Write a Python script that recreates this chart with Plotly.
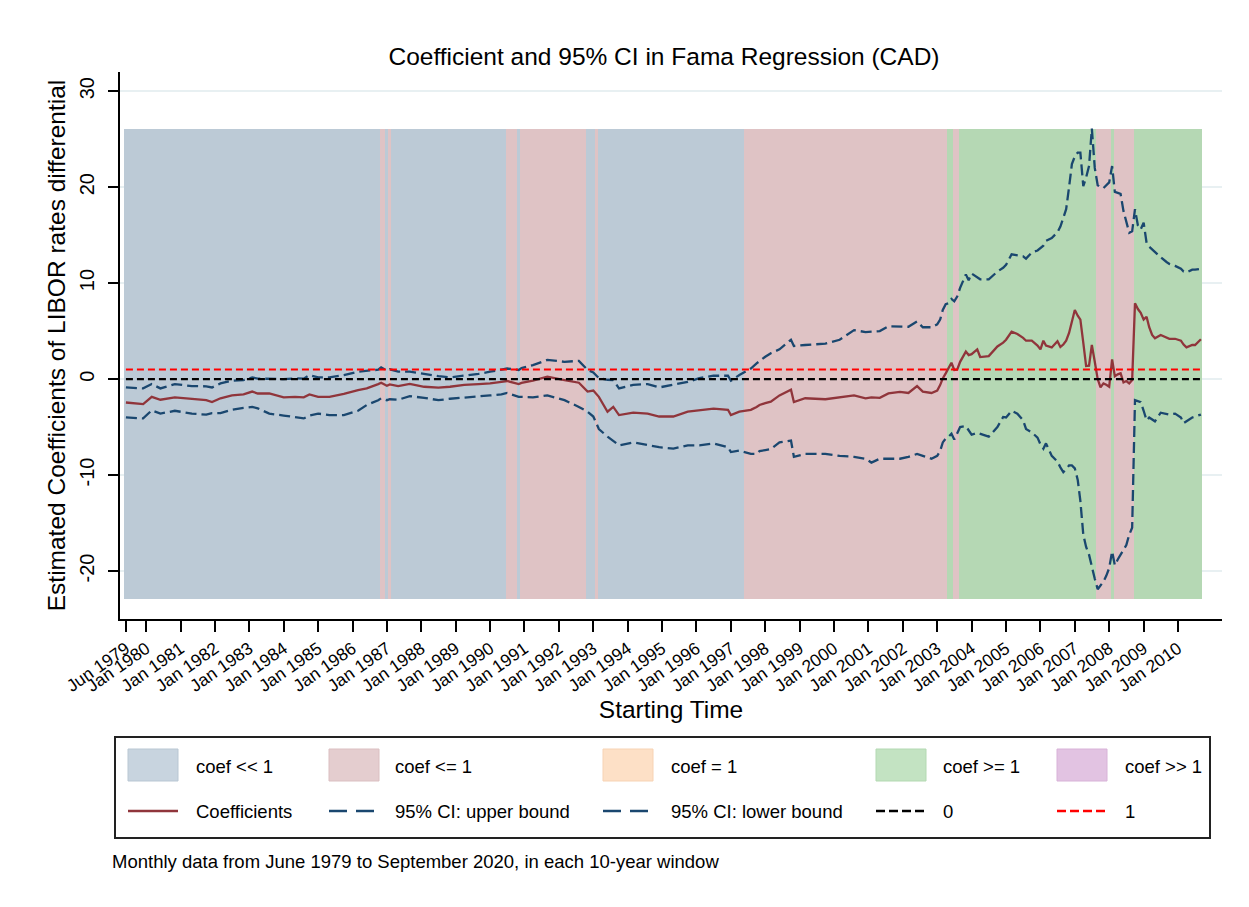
import pandas as pd
import plotly.graph_objects as go

FONT = "Liberation Sans, Arial, Helvetica, sans-serif"

# ---------------- data ----------------
title_text = "Coefficient and 95% CI in Fama Regression (CAD)"
note_text = "Monthly data from June 1979 to September 2020, in each 10-year window"

dates = [
    "1979-06", "1979-12", "1980-03", "1980-06", "1980-11", "1981-05", "1981-10", "1981-12",
    "1982-03", "1982-07", "1982-11", "1983-02", "1983-04", "1983-08", "1984-01", "1984-05",
    "1984-08", "1984-10", "1985-01", "1985-05", "1985-10", "1986-03", "1986-06", "1986-10",
    "1986-11", "1987-01", "1987-02", "1987-05", "1987-09", "1988-02", "1988-07", "1988-11",
    "1989-04", "1989-09", "1990-01", "1990-05", "1990-07", "1990-11", "1990-12", "1991-04",
    "1991-09", "1992-03", "1992-08", "1992-11", "1993-01", "1993-03", "1993-06", "1993-08",
    "1993-10", "1994-03", "1994-08", "1994-12", "1995-05", "1995-10", "1996-02", "1996-07",
    "1996-12", "1997-01", "1997-04", "1997-08", "1997-10", "1997-11", "1998-01", "1998-03",
    "1998-06", "1998-10", "1998-11", "1999-03", "1999-10", "2000-03", "2000-08", "2000-12",
    "2001-02", "2001-05", "2001-08", "2001-12", "2002-03", "2002-06", "2002-08", "2002-11",
    "2003-01", "2003-02", "2003-03", "2003-04", "2003-05", "2003-06", "2003-07", "2003-08",
    "2003-09", "2003-11", "2003-12", "2004-01", "2004-03", "2004-04", "2004-07", "2004-10",
    "2004-12", "2005-01", "2005-03", "2005-05", "2005-07", "2005-08", "2005-10", "2005-12",
    "2006-01", "2006-02", "2006-03", "2006-05", "2006-07", "2006-08", "2006-09", "2006-10",
    "2006-11", "2006-12", "2007-01", "2007-02", "2007-03", "2007-04", "2007-05", "2007-06",
    "2007-07", "2007-08", "2007-09", "2007-10", "2007-11", "2007-12", "2008-01", "2008-02",
    "2008-03", "2008-04", "2008-05", "2008-06", "2008-07", "2008-08", "2008-09", "2008-10",
    "2008-11", "2008-12", "2009-01", "2009-02", "2009-03", "2009-04", "2009-05", "2009-07",
    "2009-09", "2009-10", "2009-12", "2010-02", "2010-03", "2010-04", "2010-06", "2010-07",
    "2010-09",
]

coef = [
    -2.44, -2.6, -1.85, -2.15, -1.9, -2.1, -2.2, -2.4,
    -2.0, -1.7, -1.6, -1.3, -1.5, -1.5, -1.9, -1.85,
    -1.9, -1.6, -1.85, -1.85, -1.55, -1.15, -0.97, -0.52,
    -0.38, -0.7, -0.55, -0.73, -0.5, -0.8, -0.9, -0.8,
    -0.6, -0.52, -0.45, -0.3, -0.2, -0.52, -0.4, -0.17,
    0.25, -0.1, -0.38, -1.3, -1.2, -1.85, -3.4, -2.9,
    -3.75, -3.5, -3.6, -3.9, -3.9, -3.4, -3.25, -3.07,
    -3.2, -3.75, -3.4, -3.2, -2.9, -2.7, -2.5, -2.35,
    -1.7, -1.1, -2.4, -2.0, -2.1, -1.9, -1.7, -2.0,
    -1.9, -1.95, -1.5, -1.33, -1.45, -0.73, -1.3, -1.45,
    -1.2, -0.63, 0.07, 0.6, 1.2, 1.7, 0.95, 0.98,
    1.8, 2.86, 2.5, 2.6, 3.1, 2.3, 2.4, 3.4,
    3.8, 4.1, 4.95, 4.7, 4.3, 4.0, 4.0, 3.5,
    3.1, 4.0, 3.5, 3.3, 3.95, 3.35, 3.6, 4.0,
    4.8, 6.0, 7.2, 6.6, 6.2, 3.8, 1.36, 1.4,
    3.56, 1.8, 0.0, -0.87, -0.45, -0.6, -0.8, 2.06,
    0.3, 0.5, 0.6, -0.35, -0.2, -0.45, -0.1, 7.9,
    7.3, 6.9, 6.2, 6.5, 5.4, 4.6, 4.25, 4.6,
    4.3, 4.2, 4.2, 4.0, 3.6, 3.3, 3.55, 3.55,
    4.15,
]

upper = [
    -0.87, -0.97, -0.52, -0.97, -0.52, -0.73, -0.75, -0.87,
    -0.45, -0.17, -0.1, 0.17, 0.05, 0.0, 0.0, 0.07,
    0.05, 0.42, 0.17, 0.17, 0.42, 0.77, 0.85, 0.98,
    1.22, 0.9, 1.02, 0.77, 0.77, 0.5, 0.3, 0.17,
    0.35, 0.55, 0.77, 0.95, 1.1, 0.95, 1.15, 1.45,
    2.0, 1.8, 1.9, 0.95, 0.7, 0.1, -0.07, -0.1,
    -0.97, -0.6, -0.52, -0.87, -0.6, -0.3, 0.1, 0.35,
    0.35, -0.17, 0.42, 1.1, 1.64, 1.9, 2.33, 2.7,
    3.1, 4.1, 3.45, 3.55, 3.7, 4.1, 5.1, 4.9,
    4.95, 5.0, 5.5, 5.5, 5.45, 6.0, 5.4, 5.4,
    5.7, 6.2, 7.2, 7.8, 7.9, 8.35, 8.1, 8.6,
    9.5, 10.9, 10.3, 11.0, 10.6, 10.4, 10.4, 11.2,
    11.6, 11.9, 13.0, 12.9, 12.8, 12.55, 13.2, 13.4,
    13.7, 13.9, 14.4, 14.7, 15.3, 15.9, 16.8, 17.7,
    20.0, 22.4, 23.2, 23.6, 23.6, 20.1, 21.0, 22.2,
    26.1, 22.0, 20.2, 20.0, 19.9, 20.2, 20.5, 22.2,
    19.5, 19.4, 19.3, 17.5, 16.5, 15.25, 15.4, 17.7,
    16.0, 15.6, 16.3, 14.2, 13.8, 13.5, 13.2, 12.7,
    12.2, 12.0, 11.8, 11.5, 11.2, 11.1, 11.4, 11.4,
    11.5,
]

lower = [
    -4.0, -4.1, -3.25, -3.6, -3.3, -3.6, -3.7, -3.55,
    -3.55, -3.2, -3.0, -2.9, -3.05, -3.6, -3.8, -3.95,
    -4.1, -3.8, -3.6, -3.75, -3.75, -3.3, -2.7, -2.2,
    -2.0, -2.2, -2.1, -2.15, -1.78, -1.95, -2.2, -2.05,
    -1.95, -1.8, -1.7, -1.6, -1.45, -1.85, -1.85, -1.9,
    -1.7, -2.2, -2.9, -3.4, -3.9, -5.2, -6.0, -6.5,
    -6.9, -6.6, -6.9, -7.1, -7.25, -6.9, -6.9, -6.7,
    -7.1, -7.6, -7.45, -7.8, -7.8, -7.5, -7.4, -7.3,
    -6.6, -6.4, -8.1, -7.8, -7.8, -8.0, -8.1, -8.3,
    -8.7, -8.3, -8.3, -8.3, -8.1, -7.8, -8.0, -8.3,
    -8.0, -7.5, -6.6, -6.2, -6.0, -5.7, -6.3, -5.6,
    -5.0, -4.9, -5.3, -5.8, -5.6, -5.7, -6.0, -5.0,
    -3.95, -4.0, -3.3, -3.6, -4.3, -5.2, -5.55, -6.1,
    -6.8, -7.25, -6.7, -8.0, -8.6, -9.2, -9.7, -9.4,
    -9.0, -9.0, -9.3, -10.5, -12.7, -16.2, -17.5, -18.3,
    -19.7, -20.8, -21.9, -21.5, -21.1, -20.5, -19.7, -17.95,
    -19.4, -18.8, -18.3, -17.8, -17.3, -16.2, -15.5, -2.2,
    -2.3, -2.4, -3.3, -4.3, -4.0, -4.2, -4.4, -3.5,
    -3.6, -3.7, -3.6, -4.0, -4.6, -4.4, -4.0, -3.9,
    -3.7,
]

# regimes shown as shaded monthly bars
categories = ["coef << 1", "coef <= 1", "coef = 1", "coef >= 1", "coef >> 1"]
seg_start = ["1979-06", "1986-11", "1987-01", "1987-02", "1987-03", "1990-07", "1990-11",
             "1990-12", "1992-11", "1993-02", "1993-03", "1997-06", "2003-05", "2003-07",
             "2003-09", "2007-09", "2008-02", "2008-03", "2008-10"]
seg_end = ["1986-10", "1986-12", "1987-01", "1987-02", "1990-06", "1990-10", "1990-11",
           "1992-10", "1993-01", "1993-02", "1997-05", "2003-04", "2003-06", "2003-08",
           "2007-08", "2008-01", "2008-02", "2008-09", "2010-09"]
seg_cat = ["coef << 1", "coef <= 1", "coef << 1", "coef <= 1", "coef << 1", "coef <= 1",
           "coef << 1", "coef <= 1", "coef << 1", "coef <= 1", "coef << 1", "coef <= 1",
           "coef >= 1", "coef <= 1", "coef >= 1", "coef <= 1", "coef >= 1", "coef <= 1",
           "coef >= 1"]

ref_levels = [0, 1]
ref_names = ["0", "1"]

tick_labels = ["Jun 1979"] + ["Jan %d" % y for y in range(1980, 2011)]
tick_dates = ["1979-06-01"] + ["%d-01-01" % y for y in range(1980, 2011)]
y_ticks = [-20, -10, 0, 10, 20, 30]

# ---------------- styles ----------------
shade_color = {"coef << 1": "#bccad6", "coef <= 1": "#dfc3c5", "coef = 1": "#fcdcbf",
               "coef >= 1": "#b5d8b4", "coef >> 1": "#dcbedc"}
swatch_color = {"coef << 1": "#c8d4df", "coef <= 1": "#e4cdcf", "coef = 1": "#fde0c6",
                "coef >= 1": "#c3e3c2", "coef >> 1": "#e2c3e2"}
swatch_edge = {"coef << 1": "#b9c7d3", "coef <= 1": "#dbbfc1", "coef = 1": "#f7d3b4",
               "coef >= 1": "#b3d9b2", "coef >> 1": "#d8b2d8"}
COEF_C = "#90353b"
CI_C = "#1a476f"
ref_colors = ["#000000", "#ff0000"]

W, H = 1249, 907
PL, PR, PT, PB = 120, 1222, 72, 619


def px2x(px):
    return (px - PL) / (PR - PL)


def py2y(py):
    return (PB - py) / (PB - PT)


fig = go.Figure()

month_ms = 31 * 24 * 3600 * 1000
shade_top = max(upper)
shade_bottom = min(lower) - 1

for cat in categories:
    months = []
    for s, e, c in zip(seg_start, seg_end, seg_cat):
        if c == cat:
            months += list(pd.date_range(s + "-01", e + "-01", freq="MS"))
    if not months:
        continue
    fig.add_trace(go.Bar(
        x=months, y=[shade_top - shade_bottom] * len(months), base=shade_bottom,
        width=month_ms, name=cat, hoverinfo="skip",
        marker=dict(color=shade_color[cat], line=dict(width=0)),
    ))

x_dates = [d + "-01" for d in dates]
fig.add_trace(go.Scatter(x=x_dates, y=coef, mode="lines", name="Coefficients",
                         line=dict(color=COEF_C, width=2.3)))
fig.add_trace(go.Scatter(x=x_dates, y=upper, mode="lines", name="95% CI: upper bound",
                         line=dict(color=CI_C, width=2.3, dash="11px,5px")))
fig.add_trace(go.Scatter(x=x_dates, y=lower, mode="lines", name="95% CI: lower bound",
                         line=dict(color=CI_C, width=2.3, dash="11px,5px")))
for lvl, nm, col in zip(ref_levels, ref_names, ref_colors):
    fig.add_trace(go.Scatter(x=[x_dates[0], x_dates[-1]], y=[lvl, lvl], mode="lines",
                             name=nm, line=dict(color=col, width=2.2, dash="7px,4px")))

# ---------------- manual legend (Stata style) ----------------
LFS = 18.5
shapes = []
annotations = []
shapes.append(dict(type="rect", xref="paper", yref="paper", x0=px2x(115), x1=px2x(1210),
                   y0=py2y(838), y1=py2y(737), line=dict(color="#222222", width=2),
                   fillcolor="rgba(0,0,0,0)", layer="above"))
col_sw = [128, 329, 603, 876, 1057]
col_tx = [194, 393, 669, 941, 1123]
line_items = [
    ("Coefficients", COEF_C, "solid", 2.6),
    ("95% CI: upper bound", CI_C, "18px,9px", 2.6),
    ("95% CI: lower bound", CI_C, "18px,9px", 2.6),
    (ref_names[0], ref_colors[0], "9px,4px", 2.6),
    (ref_names[1], ref_colors[1], "9px,4px", 2.6),
]
for i, cat in enumerate(categories):
    sx, tx = col_sw[i], col_tx[i]
    shapes.append(dict(type="rect", xref="paper", yref="paper", x0=px2x(sx), x1=px2x(sx + 50),
                       y0=py2y(781), y1=py2y(749), fillcolor=swatch_color[cat],
                       line=dict(color=swatch_edge[cat], width=1)))
    annotations.append(dict(text=cat, xref="paper", yref="paper", x=px2x(tx), y=py2y(766),
                            xanchor="left", yanchor="middle", showarrow=False,
                            font=dict(size=LFS, color="black", family=FONT)))
    nm, col, dash, lw = line_items[i]
    shapes.append(dict(type="line", xref="paper", yref="paper", x0=px2x(sx), x1=px2x(sx + 50),
                       y0=py2y(811), y1=py2y(811), line=dict(color=col, width=lw, dash=dash)))
    annotations.append(dict(text=nm, xref="paper", yref="paper", x=px2x(tx), y=py2y(811),
                            xanchor="left", yanchor="middle", showarrow=False,
                            font=dict(size=LFS, color="black", family=FONT)))

annotations.append(dict(text=note_text, xref="paper", yref="paper", x=px2x(110), y=py2y(861),
                        xanchor="left", yanchor="middle", showarrow=False,
                        font=dict(size=LFS, color="black", family=FONT)))

fig.update_layout(
    width=W, height=H, autosize=False,
    margin=dict(l=PL, r=W - PR, t=PT, b=H - PB, pad=0),
    paper_bgcolor="white", plot_bgcolor="white",
    barmode="overlay", bargap=0, showlegend=False, hovermode=False,
    font=dict(family=FONT, color="black"),
    title=dict(text=title_text, xref="paper", x=px2x(664), xanchor="center",
               yref="container", y=1 - 56 / H, yanchor="middle",
               font=dict(size=24.5, color="black", family=FONT)),
    xaxis=dict(type="date", range=["1979-03-30", "2011-04-13"], tickmode="array",
               tickvals=tick_dates, ticktext=tick_labels, tickangle=-35,
               ticks="outside", ticklen=11, tickwidth=1.5, tickcolor="black",
               showline=True, linecolor="black", linewidth=1.5,
               showgrid=False, zeroline=False, tickfont=dict(size=17.5),
               title=dict(text="Starting Time", font=dict(size=24.5), standoff=3)),
    yaxis=dict(range=[-25, 32], tickmode="array", tickvals=y_ticks,
               ticktext=[str(v) for v in y_ticks], tickangle=-90,
               ticks="outside", ticklen=10, tickwidth=1.5, tickcolor="black",
               showline=True, linecolor="black", linewidth=1.5,
               showgrid=True, gridcolor="#e8f0f2", gridwidth=1.5, zeroline=False,
               tickfont=dict(size=20), ticklabelstandoff=6,
               title=dict(text="Estimated Coefficients of LIBOR rates differential",
                          font=dict(size=24.5), standoff=4)),
    shapes=shapes, annotations=annotations,
)

fig.write_html("out.html", config={"displayModeBar": False},
               post_script="document.body.style.margin='0';document.body.style.overflow='hidden';")
